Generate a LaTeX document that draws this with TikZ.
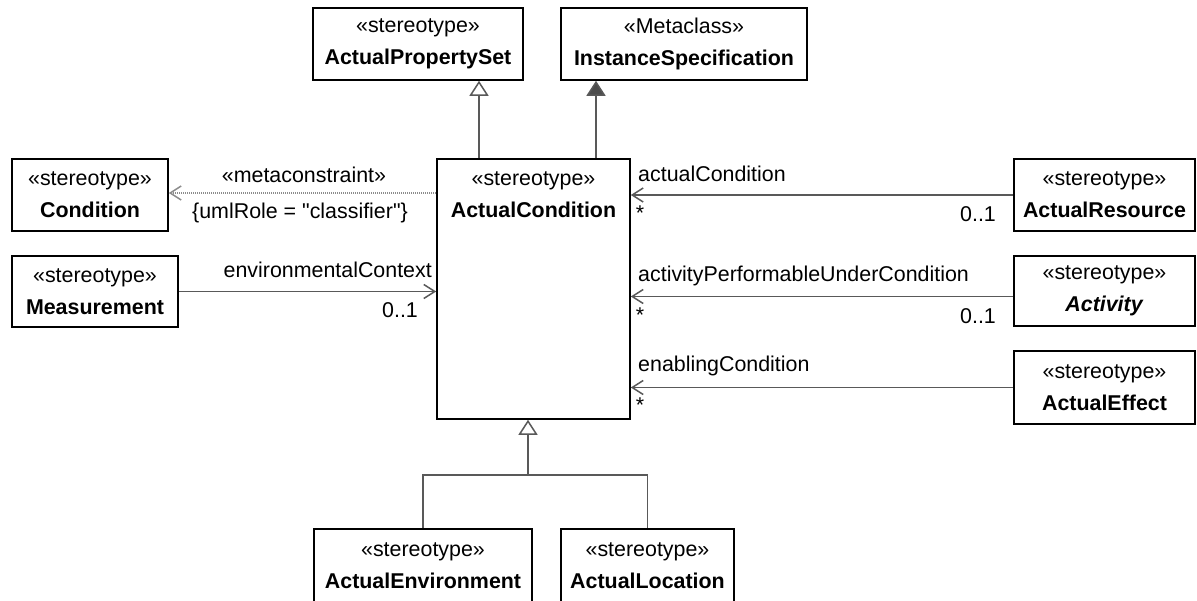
\documentclass[tikz,border=0pt]{standalone}
\usepackage{fontspec}
\setmainfont{Liberation Sans}
\newfontfamily\plainfont{Liberation Sans}
\usetikzlibrary{arrows.meta}
\begin{document}
\begin{tikzpicture}[x=1pt,y=-1pt,
  every node/.style={font=\fontsize{21.4}{32}\selectfont, inner sep=0pt, text=black},
  cls/.style={draw=black, line width=1.6pt, fill=white, align=center},
  ttl/.style={align=center},
  conn/.style={draw=black!65, line width=1.5pt},
  assoc/.style={conn, -{Straight Barb[length=11pt,width=14pt,line width=1.5pt]}},
  gen/.style={conn, -{Triangle[length=15pt,width=19pt,fill=white,line width=1.5pt]}},
  genf/.style={conn, -{Triangle[length=15pt,width=19pt,fill=black!70,line width=1.5pt]}},
  dep/.style={draw=black!45, line width=1.3pt, dash pattern=on 1pt off 1pt,
    -{Straight Barb[length=11pt,width=14pt,line width=1.5pt,sep=0pt]}}
]
\fill[white] (0,0) rectangle (1197,601);
\useasboundingbox (0,0) rectangle (1197,601);

% classes
\node[cls, minimum width=210pt, minimum height=72pt] (aps) at (418,44) {«stereotype»\\\textbf{ActualPropertySet}};
\node[cls, minimum width=246pt, minimum height=72pt] (is) at (684,44) {«Metaclass»\\\textbf{InstanceSpecification}};
\node[cls, minimum width=156pt, minimum height=72pt] (cond) at (90,195) {«stereotype»\\\textbf{Condition}};
\node[cls, minimum width=166pt, minimum height=71pt] (meas) at (95,291.5) {«stereotype»\\\textbf{Measurement}};
\node[cls, minimum width=193pt, minimum height=260pt] (ac) at (533.5,289) {};
\node[ttl] (actxt) at (533.5,195) {«stereotype»\\\textbf{ActualCondition}};
\node[cls, minimum width=181pt, minimum height=72pt] (res) at (1104.5,195) {«stereotype»\\\textbf{ActualResource}};
\node[cls, minimum width=181pt, minimum height=70pt] (act) at (1104.5,291) {«stereotype»\\\textbf{\textit{Activity}}};
\node[cls, minimum width=181pt, minimum height=73pt] (eff) at (1104.5,387.5) {«stereotype»\\\textbf{ActualEffect}};
\node[cls, minimum width=218pt, minimum height=100pt] (env) at (423,579) {};
\node[ttl] (envtxt) at (423,566) {«stereotype»\\\textbf{ActualEnvironment}};
\node[cls, minimum width=173pt, minimum height=100pt] (loc) at (647.5,579) {};
\node[ttl] (loctxt) at (647.5,566) {«stereotype»\\\textbf{ActualLocation}};

% generalizations to the top
\path ([xshift=-54.5pt]ac.north) coordinate (g1);
\path ([xshift=62.5pt]ac.north) coordinate (g2);
\draw[gen] (g1) -- (g1 |- aps.south);
\draw[genf] (g2) -- (g2 |- is.south);

% metaconstraint dependency
\path ([yshift=2pt]cond.east) coordinate (c1);
\draw[dep] (c1 -| ac.west) -- (c1);
\node (mc) at (304,175) {«metaconstraint»};
\node (ur) at (300,213) {\plainfont\{umlRole = "classifier"\}};

% environmentalContext
\draw[assoc] (meas.east) -- (meas.east -| ac.west);
\node[anchor=east] (ec) at (432,270) {environmentalContext};
\node (m01) at (400,310) {0..1};

% right associations
\draw[assoc] (res.west) -- (res.west -| ac.east);
\node[anchor=west] (acl) at (638,174) {actualCondition};
\node (s1) at (640,213) {*};
\node (r01) at (978,214) {0..1};

\path ([yshift=-5.5pt]act.west) coordinate (a1);
\draw[assoc] (a1) -- (a1 -| ac.east);
\node[anchor=west] (apl) at (638,276) {activityPerformableUnderCondition};
\node (s2) at (640,315) {*};
\node (a01) at (978,316) {0..1};

\draw[assoc] (eff.west) -- (eff.west -| ac.east);
\node[anchor=west] (ecl) at (638,366) {enablingCondition};
\node (s3) at (640,405) {*};

% generalization from the bottom
\coordinate (j) at (528,475);
\draw[conn] (env.north) -- (env.north |- j) -- (loc.north |- j) -- (loc.north);
\draw[gen] (j) -- (j |- ac.south);
\end{tikzpicture}
\end{document}
